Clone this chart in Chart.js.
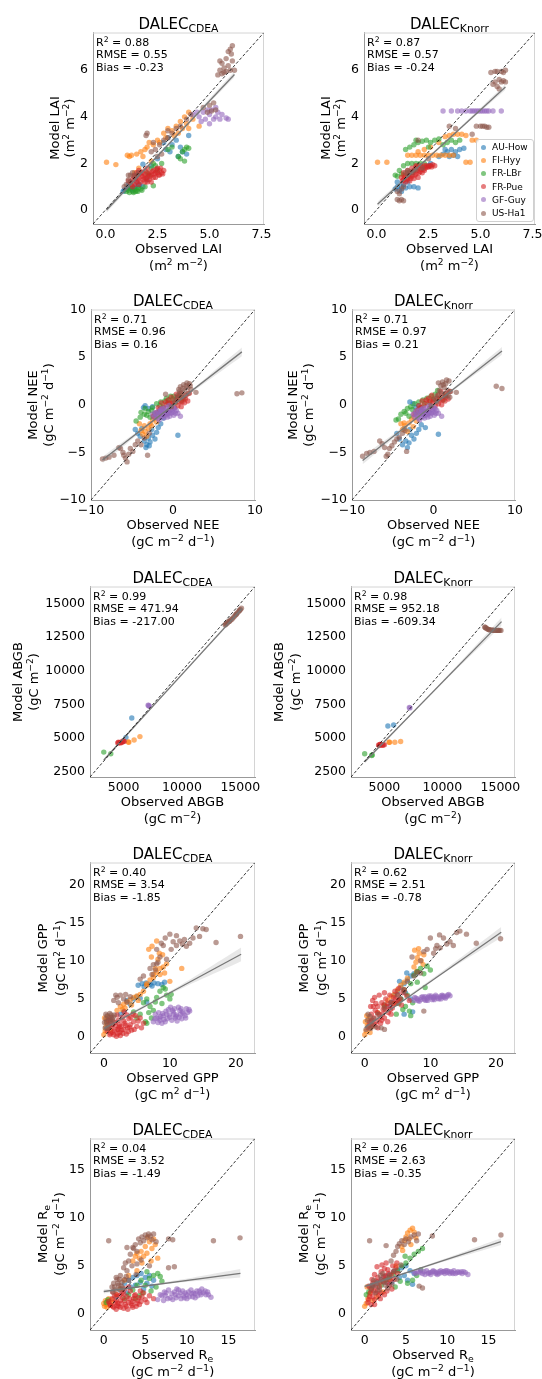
<!DOCTYPE html>
<html>
<head>
<meta charset="utf-8">
<script src="https://cdn.jsdelivr.net/npm/chart.js@4.4.0/dist/chart.umd.min.js"></script>
<style>
  body { margin: 0; background: #fff; }
  #fig { position: relative; width: 542px; height: 1379px; font-family: 'DejaVu Sans', sans-serif; color: #000; overflow: hidden; }
  #fig canvas { position: absolute; }
  .t { position: absolute; white-space: nowrap; }
  .t sup { font-size: 70%; vertical-align: 0; position: relative; top: -0.5em; line-height: 0; }
  .t sub { font-size: 72%; vertical-align: 0; position: relative; top: 0.28em; line-height: 0; }
  .legend { position: absolute; border: 1px solid #d0d0d0; border-radius: 3px; background: rgba(255,255,255,0.85); font-size: 9px; }
</style>
</head>
<body>
<div id="fig"></div>
<script>
const sites = ['AU-How', 'FI-Hyy', 'FR-LBr', 'FR-Pue', 'GF-Guy', 'US-Ha1'];
const siteColors = ['31,119,180', '255,127,14', '44,160,44', '214,39,40', '148,103,189', '140,86,75'];

// LAI
const laiLim = [-0.6, 7.62];
const laiTicksX = [0, 2.5, 5, 7.5];
const laiTicksY = [0, 2, 4, 6];

const laiCdea = [
  [1.2,0.95, 0.9,0.85, 1.0,0.9, 1.4,1.0, 1.6,1.05, 1.8,1.0, 1.3,0.85, 1.1,1.1, 1.5,1.2, 2.0,1.3, 1.8,1.97,
   2.8,2.9, 3.0,3.1, 3.2,2.8, 3.4,3.0, 3.6,2.7, 2.9,2.6, 3.7,2.5, 3.9,2.4, 3.5,2.3, 3.1,2.5, 4.0,3.2, 2.5,2.2, 2.2,1.9,
   0.85,0.8, 1.05,0.95, 1.25,0.9, 1.45,0.95, 1.65,1.1],
  [0.05,2.05, 0.5,1.95, 1.05,2.35, 1.15,2.3, 1.25,2.35, 1.5,2.4, 1.7,2.5, 1.9,2.6, 2.1,2.9, 2.0,2.7, 1.8,2.3, 2.3,2.8,
   2.5,3.0, 2.6,2.9, 2.8,3.3, 3.0,3.5, 3.2,3.4, 3.4,3.6, 3.6,3.8, 3.8,4.0, 4.0,4.2, 3.3,3.2, 3.5,3.3, 3.7,3.5, 2.9,3.1,
   3.9,3.7, 4.2,3.9, 4.5,3.6, 4.0,3.5, 1.6,1.8, 2.2,2.1, 1.4,1.6],
  [1.1,0.85, 1.3,0.8, 1.5,0.85, 1.7,0.9, 1.2,0.95, 1.9,1.0, 1.4,0.9, 1.6,0.95, 1.0,0.8, 2.0,1.6, 2.2,1.8, 2.4,1.9,
   2.5,1.7, 2.3,2.0, 2.7,2.0, 2.1,1.5, 2.3,1.04, 3.5,2.3, 3.7,2.5, 3.8,2.6, 3.9,2.7, 4.0,2.65, 3.6,2.2, 3.8,2.1, 3.0,2.6, 3.2,2.7,
   1.15,0.75, 1.35,0.75, 1.55,0.8, 1.75,0.85, 1.45,0.8],
  [1.3,1.3, 1.4,1.5, 1.5,1.2, 1.6,1.4, 1.7,1.6, 1.8,1.3, 1.9,1.5, 2.0,1.4, 2.1,1.6, 2.2,1.5, 2.3,1.7, 2.4,1.4, 2.5,1.6,
   2.6,1.7, 2.7,1.6, 1.5,1.6, 1.7,1.2, 1.9,1.7, 2.1,1.3, 2.3,1.4, 2.5,1.8, 1.4,1.1, 1.6,1.1, 2.0,1.8, 2.2,1.2, 2.8,1.7,
   1.2,1.2, 1.8,1.6, 2.4,1.6, 2.0,1.2, 1.3,1.0, 1.6,1.7, 1.1,1.25, 2.6,1.5, 1.35,1.45, 1.55,1.3, 1.75,1.45, 1.95,1.35,
   2.15,1.45, 2.35,1.55, 2.55,1.5, 2.45,1.75, 2.05,1.55, 1.85,1.4, 1.65,1.55, 1.45,1.35, 2.25,1.65, 2.65,1.8, 1.25,1.1,
   1.9,1.2, 2.75,1.55],
  [4.5,4.0, 4.7,4.2, 4.8,3.9, 5.0,4.1, 5.1,4.3, 5.2,3.9, 5.3,4.0, 5.4,4.2, 5.5,3.9, 4.9,4.3, 5.6,4.1, 5.8,3.95,
   4.4,4.2, 4.6,3.8, 5.0,3.7, 5.3,4.4, 4.2,4.1, 5.9,3.9],
  [5.5,6.0, 5.6,6.3, 5.7,6.1, 5.8,6.5, 5.9,6.2, 6.0,6.9, 6.05,6.7, 5.9,6.8, 6.1,7.05, 6.0,6.0, 5.7,5.9, 5.8,5.95,
   6.1,6.4, 5.4,5.8, 5.6,5.85, 6.2,6.0, 5.5,6.4, 5.0,4.5, 5.2,4.6, 5.3,4.3, 4.9,4.2, 4.7,4.4, 5.1,4.25, 3.9,3.9,
   4.1,4.1, 3.6,3.6, 3.4,3.5, 3.0,3.4, 2.8,3.0, 2.6,2.8, 2.4,2.6, 2.2,2.5, 2.0,3.3, 1.95,3.2, 2.3,2.9, 3.2,3.3, 2.7,2.4,
   2.5,2.3, 3.0,3.1, 1.1,1.3, 1.2,1.5, 1.3,1.6, 1.4,1.4, 1.2,1.2, 1.5,1.5, 1.0,1.1, 0.9,1.0, 1.6,1.6, 1.1,1.5]
];
const laiCdeaFit = [0.05, 0.0, 6.2, 5.82];
const laiCdeaBand = [[0.05, -0.12, 0.12], [3.1, 2.86, 2.96], [6.2, 5.7, 5.95]];
const laiCdeaStats = ['0.88', '0.55', '-0.23'];

const laiKnorr = [
  [0.9,0.9, 1.0,1.0, 1.1,0.85, 1.2,1.0, 1.3,1.1, 1.4,0.95, 1.0,1.2, 1.5,1.2, 1.2,0.8, 1.6,1.0, 1.8,1.0, 2.0,0.95,
   3.0,2.3, 3.2,2.4, 3.4,2.5, 3.6,2.6, 3.8,2.5, 4.0,2.6, 3.5,2.3, 3.7,2.35, 3.9,2.3, 3.3,2.6, 4.2,2.65, 2.5,1.9, 2.6,2.0],
  [0.05,2.05, 0.5,2.05, 1.5,2.35, 1.7,2.35, 1.9,2.35, 2.1,2.35, 2.3,2.35, 2.5,2.35, 2.7,2.35, 2.9,2.35, 3.1,2.35,
   3.3,2.35, 3.5,2.35, 3.7,2.35, 4.5,2.05, 4.3,2.05, 3.5,3.2, 3.7,3.25, 3.9,3.25, 4.1,3.25, 4.3,3.2, 3.3,3.15, 3.0,2.9,
   2.6,2.7, 2.3,2.6, 2.0,2.5, 1.5,1.6, 1.3,1.5, 4.6,3.0, 4.8,3.0],
  [0.9,1.5, 1.0,1.45, 1.1,1.7, 1.2,1.55, 1.3,1.9, 1.5,2.0, 1.7,2.0, 1.9,2.0, 2.1,2.0, 2.3,2.0, 1.4,2.6, 1.6,2.7,
   1.8,2.8, 2.0,2.9, 2.2,2.95, 2.4,3.0, 2.6,2.9, 2.8,3.0, 3.0,3.05, 3.2,2.8, 3.4,2.9, 3.6,3.0, 3.8,2.9, 4.0,3.0, 2.5,2.7, 1.9,3.0],
  [1.3,1.3, 1.4,1.5, 1.5,1.35, 1.6,1.6, 1.7,1.45, 1.8,1.7, 1.9,1.55, 2.0,1.8, 2.1,1.65, 2.2,1.85, 2.3,1.7, 2.4,1.9,
   2.5,1.85, 2.6,1.9, 1.5,1.7, 1.7,1.8, 1.9,1.9, 2.1,1.9, 1.4,1.2, 1.6,1.25, 1.8,1.35, 1.3,1.6, 2.0,1.4, 2.3,1.9,
   1.2,1.4, 2.7,1.95, 2.8,1.9, 1.6,1.45, 2.2,1.6, 1.35,1.4, 1.55,1.5, 1.75,1.6, 1.95,1.7, 2.15,1.75, 2.35,1.8,
   2.55,1.9, 1.45,1.3, 1.65,1.35, 1.85,1.5, 2.05,1.6, 2.25,1.75, 2.45,1.85, 1.25,1.25, 2.65,1.85, 1.9,1.85],
  [3.2,4.25, 3.6,4.25, 3.9,4.25, 4.1,4.25, 4.3,4.25, 4.5,4.25, 4.6,4.25, 4.7,4.25, 4.8,4.25, 4.9,4.25, 5.0,4.25,
   5.1,4.25, 5.2,4.25, 5.3,4.25, 5.4,4.25, 5.6,4.25, 6.0,4.25],
  [5.6,5.4, 5.7,5.5, 5.8,5.3, 5.9,5.6, 6.0,5.95, 6.1,5.9, 6.2,6.0, 6.0,5.5, 6.1,5.55, 5.5,5.9, 5.8,5.95, 5.9,5.2,
   6.2,5.5, 5.7,5.95, 5.0,3.6, 5.2,3.6, 5.3,3.55, 5.4,3.55, 5.1,3.6, 4.8,3.6, 3.5,3.6, 3.8,3.5, 4.6,3.25, 1.0,0.45,
   1.1,0.4, 1.2,0.45, 1.3,0.4, 1.1,0.7, 1.2,0.9, 1.3,1.0, 1.0,0.8, 1.4,1.6, 1.5,1.7, 1.6,1.65, 1.8,1.7, 1.7,1.6,
   1.9,1.75, 2.0,3.0, 2.5,2.2, 2.2,1.8, 1.5,1.5]
];
const laiKnorrFit = [0.05, 0.25, 6.2, 5.28];
const laiKnorrBand = [[0.05, 0.14, 0.36], [3.1, 2.72, 2.8], [6.2, 5.16, 5.4]];
const laiKnorrStats = ['0.87', '0.57', '-0.24'];

// NEE
const neeLim = [-10, 10];
const neeTicksX = [-10, 0, 10];
const neeTicksY = [-10, -5, 0, 5, 10];

const neeCdea = [
  [-4.3,-3.0, -4.0,-3.3, -3.5,-3.8, -3.2,-4.2, -3.0,-3.5, -2.8,-3.9, -2.5,-3.2, -2.2,-3.6, -2.0,-2.9, -1.8,-2.4,
   -3.8,-2.5, -2.6,-2.6, -1.5,-2.0, -3.3,-4.5, -2.9,-4.3, -4.6,-2.6, -3.6,-0.3, -3.4,-0.1, -3.0,-0.4, -2.5,-0.2,
   0.6,-3.2, -1.2,-1.4],
  [-3.7,-3.1, -3.4,-2.8, -3.2,-3.3, -3.0,-2.5, -2.8,-2.0, -2.5,-1.6, -2.2,-1.4, -2.0,-1.8, -3.5,-2.2, -1.8,-1.2,
   -2.6,-2.2, -3.9,-2.7, -4.1,-2.0, -2.3,-1.0, -1.6,-0.9],
  [-4.0,-1.3, -3.5,-1.0, -3.0,-0.7, -2.5,-0.3, -2.0,0.1, -1.5,0.3, -1.0,0.4, -0.5,0.5, 0.0,0.6, 0.5,0.8, 1.0,0.4,
   -1.8,-0.8, -1.2,-0.2, -0.8,0.7, 0.3,0.2, -2.8,-1.3, -4.5,-1.7, -3.9,-0.8, -0.3,0.9, 0.8,1.0, 1.3,0.6, -2.2,-1.0,
   -3.2,-1.1, -2.6,-0.6, -1.6,-0.1, -0.6,0.2, 0.1,0.9, -3.4,-0.4],
  [-2.0,-0.8, -1.6,-0.5, -1.2,-0.3, -0.8,0.0, -0.4,0.2, 0.0,0.3, 0.4,0.5, 0.8,0.3, 1.2,0.7, 1.6,1.0, -1.0,-0.9,
   -0.5,-0.6, 0.2,-0.3, 0.6,-0.1, 1.0,-0.2, 1.4,0.2, -1.4,0.2, -0.2,0.8, 2.0,1.2, -2.4,-1.2, 1.8,0.4, 0.4,1.1,
   -1.8,-0.3, -0.6,0.5, 0.6,0.8, 1.1,0.3, -0.1,0.1, 0.9,1.2, 1.5,0.6, -0.9,0.3],
  [-2.5,-1.0, -2.2,-0.8, -2.0,-1.2, -1.8,-0.7, -1.6,-1.0, -1.4,-1.3, -1.2,-0.8, -1.0,-1.1, -0.8,-0.6, -0.6,-0.9,
   -0.4,-1.2, -0.2,-0.5, 0.0,-0.8, 0.2,-0.4, -1.5,-0.5, -1.1,-1.4, -0.7,-1.3, -0.3,-0.2, 0.4,-0.6, -1.9,-1.4,
   -2.3,-1.3, -1.3,-0.4, -0.9,-0.3, 0.1,-1.1, 0.6,-0.9, 0.9,-1.2, -0.5,-0.1, -1.7,-1.6, -1.35,-0.95, -0.85,-0.95,
   -0.45,-0.85, -1.05,-0.7, -0.65,-0.75, -1.6,-0.8, -0.25,-0.9, -1.25,-1.15, -0.75,-1.05, 0.3,-0.9, -2.1,-0.95,
   -0.1,-0.6, -1.45,-0.65, 0.05,-0.3],
  [-8.6,-5.7, -8.2,-5.6, -7.8,-5.5, -7.2,-5.3, -6.6,-4.5, -6.4,-4.6, -6.1,-5.0, -6.0,-5.3, -5.8,-5.6, -5.6,-6.0,
   -5.4,-5.2, -5.2,-4.6, -4.9,-4.9, -4.6,-4.2, -4.3,-3.8, -3.9,-4.2, -3.1,-5.3, -3.5,-3.5, -2.9,-3.0, 7.8,1.15,
   8.4,1.25, 0.4,0.6, 0.6,1.0, 0.8,1.4, 1.0,1.2, 1.2,1.7, 1.4,1.5, 1.6,2.0, 1.8,1.8, 2.0,2.2, 1.1,0.8, 0.9,1.9,
   1.5,1.0, 1.3,2.1, 0.7,1.6, 2.2,1.6, 1.9,1.2, 2.8,1.3, 0.2,0.3, -0.2,-0.2, 1.7,2.3, 2.1,2.0, -0.9,1.1]
];
const neeCdeaFit = [-8.6, -5.8, 8.4, 5.55];
const neeCdeaBand = [[-8.6, -6.15, -5.45], [0, -0.2, 0.0], [8.4, 5.1, 6.0]];
const neeCdeaStats = ['0.71', '0.96', '0.16'];

const neeKnorr = [
  [-4.5,-3.0, -4.2,-3.6, -3.8,-4.2, -3.4,-3.8, -3.0,-4.0, -2.7,-3.2, -2.4,-3.6, -2.1,-3.0, -1.8,-2.6, -1.5,-2.1,
   -3.6,-2.5, -2.9,-2.6, -3.2,-4.5, -2.9,0.3, -2.5,0.1, -2.2,-0.3, -1.8,-0.1, 0.6,-3.1, -1.0,-2.4],
  [-3.8,-2.6, -3.5,-2.2, -3.2,-2.8, -3.0,-1.9, -2.7,-1.5, -2.4,-1.3, -2.1,-1.7, -1.8,-1.0, -3.6,-1.9, -2.5,-2.3,
   -4.0,-2.0, -1.6,-0.7, -2.2,-0.9],
  [-4.3,-1.5, -4.0,-1.0, -3.6,-0.7, -3.2,-0.4, -2.8,-0.2, -2.3,0.1, -1.8,0.3, -1.3,0.5, -0.8,0.7, -0.3,0.9, 0.2,1.1,
   0.7,0.7, 1.2,0.5, -2.0,-0.8, -1.5,-0.3, -0.5,0.3, -4.6,-1.6, -3.0,-1.2, 0.5,1.5, 1.5,1.0, -3.4,-0.9, -2.6,-0.5,
   -1.1,0.1, 0.0,0.6],
  [-2.0,-0.6, -1.6,-0.3, -1.2,-0.1, -0.8,0.2, -0.4,0.4, 0.0,0.5, 0.4,0.7, 0.8,0.5, 1.2,0.9, 1.6,1.2, -1.0,-0.7,
   -0.5,-0.4, 0.2,-0.1, 0.6,0.1, 1.0,0.0, 1.4,0.4, -1.4,0.4, -0.2,1.0, 2.0,1.4, -2.4,-1.0, 1.8,0.6, -1.8,-0.1,
   -0.6,0.7, 0.6,1.0, 1.1,0.5, -0.1,0.3, 0.9,1.4, 1.5,0.8, -0.9,0.5],
  [-2.5,-1.0, -2.2,-0.7, -2.0,-1.2, -1.8,-0.6, -1.6,-1.0, -1.4,-1.3, -1.2,-0.8, -1.0,-1.1, -0.8,-0.6, -0.6,-0.9,
   -0.4,-1.2, -0.2,-0.5, 0.0,-0.8, 0.2,-0.4, -1.5,-0.5, -1.1,-1.4, -0.7,-1.3, -0.3,-0.2, 0.4,-0.6, -1.9,-1.4,
   -2.3,-1.3, -1.3,-0.4, -0.9,-0.3, 0.1,-1.1, 0.6,-0.9, 1.0,-1.2, -0.5,-0.1, -1.7,-1.6, -1.35,-0.95, -0.85,-0.95,
   -0.45,-0.85, -1.05,-0.7, -0.65,-0.75, -1.6,-0.8, -0.25,-0.9, -1.25,-1.15, -0.75,-1.05, 0.3,-0.9, -2.1,-0.95,
   -0.1,-0.6, -1.45,-0.65, 0.05,-0.3],
  [-8.7,-5.4, -8.2,-5.1, -7.8,-5.0, -7.3,-4.9, -6.6,-3.8, -6.3,-4.1, -6.0,-4.5, -5.8,-5.4, -5.6,-5.2, -5.4,-4.6,
   -5.1,-4.3, -4.8,-3.9, -4.5,-3.6, -4.2,-3.4, -3.3,-4.9, -3.8,-3.0, -3.5,-2.7, 7.7,1.95, 8.4,1.7, 0.2,0.6, 0.5,1.0,
   0.7,1.5, 0.9,2.0, 1.1,2.4, 1.3,1.8, 1.5,2.2, 1.7,1.5, 1.9,2.5, 0.6,2.3, 1.0,1.2, 1.4,0.9, 1.8,1.0, 2.1,1.4,
   2.8,1.3, 0.4,0.3, 1.2,2.1, 1.6,2.6, -0.3,-0.1, 2.0,0.8]
];
const neeKnorrFit = [-8.7, -5.85, 8.4, 5.65];
const neeKnorrBand = [[-8.7, -6.25, -5.45], [0, -0.12, 0.08], [8.4, 5.25, 6.05]];
const neeKnorrStats = ['0.71', '0.97', '0.21'];

// ABGB
const abgbLim = [2120, 16260];
const abgbTicksX = [5000, 10000, 15000];
const abgbTicksY = [2500, 5000, 7500, 10000, 12500, 15000];

const abgbCdea = [
  [5700,6500, 5200,5050],
  [5400,4720, 5450,4700, 5900,4870, 6400,5120],
  [3300,3970, 3900,3850],
  [4500,4650, 4600,4660, 4700,4680, 4800,4700, 4900,4720, 5000,4750, 4550,4700, 4750,4650, 4950,4800, 5050,4780],
  [7150,7430, 7200,7380, 7100,7450],
  [13700,13400, 13800,13500, 13900,13550, 14000,13650, 14100,13700, 14200,13800, 14300,13850, 14400,13950,
   14500,14050, 14600,14150, 14700,14250, 14800,14350, 14900,14450, 15000,14550, 15100,14650, 13750,13450,
   14050,13680, 14650,14200, 14950,14500]
];
const abgbCdeaFit = [3300, 3380, 15150, 14620];
const abgbCdeaBand = [[3300, 3300, 3460], [9200, 8960, 9040], [15150, 14480, 14760]];
const abgbCdeaStats = ['0.99', '471.94', '-217.00'];

const abgbKnorr = [
  [5300,5900, 5800,5980],
  [5400,4700, 5450,4700, 5900,4700, 6400,4750],
  [3300,3850, 3950,3760, 3900,3720],
  [4500,4500, 4600,4520, 4700,4510, 4800,4500, 4900,4520, 5000,4510, 4650,4560, 4850,4480, 4550,4460],
  [7150,7280, 7200,7250],
  [13650,13250, 13750,13180, 13850,13120, 13950,13080, 14050,13050, 14150,13030, 14250,13020, 14350,13010,
   14450,13000, 14550,13000, 14650,13000, 14750,13000, 14850,13000, 14950,13000, 15050,13000, 13700,13220,
   14000,13060, 14400,13010, 14800,13000]
];
const abgbKnorrFit = [3300, 3250, 15100, 13650];
const abgbKnorrBand = [[3300, 3120, 3380], [9200, 8390, 8510], [15100, 13350, 13950]];
const abgbKnorrStats = ['0.98', '952.18', '-609.34'];

// GPP
const gppLim = [-2.1, 22.9];
const gppTicksX = [0, 10, 20];
const gppTicksY = [0, 5, 10, 15, 20];

const gppCdea = [
  [5.2,6.8, 5.8,7.0, 6.4,7.1, 7.0,6.9, 7.6,7.1, 8.2,7.0, 8.8,6.9, 9.2,7.2, 6.1,6.6, 7.3,6.7, 4.5,5.0, 5.0,5.3,
   3.5,4.8, 4.0,4.3, 5.5,5.1, 6.5,4.6, 3.0,3.4, 2.5,3.0],
  [0.0,0.3, 0.2,0.8, 0.3,1.3, 0.5,2.2, 0.1,2.5, 0.6,2.7, 0.4,1.8, 1.0,0.9, 0.8,1.5, 2.0,3.5, 2.5,4.0, 3.0,4.3,
   3.5,4.6, 4.0,4.9, 4.5,5.2, 5.0,5.4, 5.5,5.6, 3.2,3.8, 2.8,3.6, 4.2,4.2, 6.0,6.0, 5.2,4.8, 6.5,6.8, 7.0,7.5,
   7.5,8.2, 8.0,8.5, 8.5,9.0, 9.0,9.2, 9.5,9.6, 7.8,9.0, 8.2,10.2, 8.9,10.8, 7.2,10.5, 6.8,11.5, 8.4,11.0,
   9.2,8.4, 10.0,7.3, 11.8,9.0, 6.5,7.0, 7.5,7.8, 8.5,8.2, 7.3,11.9, 8.0,12.6],
  [6.0,4.5, 6.5,5.0, 7.0,4.0, 7.5,3.5, 8.0,5.2, 8.5,6.0, 9.0,6.5, 9.5,5.5, 10.0,5.0, 8.8,4.4, 7.2,2.5, 6.3,2.0,
   5.5,3.0, 6.8,3.2, 9.3,6.3, 7.8,4.6, 5.0,2.5, 4.5,3.3, 10.2,5.6, 6.5,1.8],
  [0.5,0.8, 0.8,1.5, 1.0,0.5, 1.2,1.2, 1.4,2.0, 1.6,0.8, 1.8,1.5, 2.0,1.0, 2.2,2.2, 2.4,0.6, 2.6,1.4, 2.8,2.6,
   3.0,1.0, 3.2,1.8, 3.4,0.4, 3.6,1.2, 3.8,2.4, 4.0,1.6, 4.2,0.9, 4.5,2.0, 4.8,2.8, 5.0,1.4, 1.5,0.3, 2.5,0.2,
   3.5,2.9, 1.1,2.6, 2.0,2.9, 0.7,2.2, 5.5,2.5, 6.0,1.8, 2.9,0.5, 1.9,0.1, 4.4,3.0, 3.1,3.3, 1.3,1.6, 2.3,1.3,
   0.6,1.1, 1.3,0.6, 1.7,1.9, 2.1,0.4, 2.7,0.9, 3.3,1.5, 3.9,1.3, 4.6,1.0, 5.2,2.1, 1.0,2.0, 2.4,1.6, 3.0,2.1,
   4.1,2.6, 0.9,0.3, 2.2,1.0, 3.7,0.7, 5.7,1.2],
  [7.5,2.0, 8.0,2.5, 8.5,2.2, 9.0,2.8, 9.5,3.0, 10.0,2.6, 10.5,3.3, 11.0,2.9, 11.5,3.5, 12.0,3.1, 12.5,3.7,
   13.0,3.4, 8.3,3.2, 8.8,1.8, 9.3,2.0, 9.8,3.6, 10.3,2.2, 10.8,2.5, 11.3,3.9, 11.8,2.4, 12.3,2.8, 7.8,3.0,
   9.6,2.4, 10.6,3.0, 11.6,3.0, 12.7,3.2, 8.6,2.7, 10.1,3.9, 11.1,2.1, 7.7,2.4, 8.2,1.9, 8.9,3.1, 9.1,2.3,
   9.9,2.9, 10.4,3.5, 10.9,2.7, 11.4,2.6, 11.9,3.3, 12.4,2.5, 12.9,3.6, 9.4,3.4, 10.7,3.7, 8.4,2.5, 11.7,3.7],
  [0.2,1.2, 0.4,2.0, 0.6,1.6, 0.8,2.5, 1.0,2.2, 1.2,1.8, 0.5,2.8, 0.3,3.0, 1.4,2.6, 0.7,1.3, 1.6,2.9, 0.9,3.1,
   1.5,4.8, 2.0,5.2, 2.5,5.5, 3.0,5.0, 3.5,4.6, 4.0,5.3, 2.2,4.5, 1.8,5.5, 3.3,5.6, 7.0,9.0, 7.5,9.5, 7.8,8.8,
   8.0,9.6, 8.5,10.5, 8.0,11.5, 8.7,12.3, 9.0,12.0, 9.3,13.0, 10.0,13.5, 10.5,12.5, 11.0,12.0, 11.5,12.6,
   11.9,12.2, 12.2,12.8, 12.5,11.9, 13.0,12.3, 13.5,13.0, 14.0,14.3, 14.5,13.2, 15.0,14.2, 15.5,14.1, 11.0,13.3,
   9.5,10.2, 8.2,9.8, 10.2,11.5, 17.0,12.4, 20.7,13.2, 7.3,8.2, 6.0,8.0, 5.5,7.6, 0.1,1.9, 0.5,1.1, 1.1,2.9,
   1.3,2.3, 0.3,2.4]
];
const gppCdeaFit = [0.0, 1.12, 20.8, 10.86];
const gppCdeaBand = [[0.0, 0.8, 1.45], [10.0, 5.6, 6.0], [20.8, 9.95, 11.75]];
const gppCdeaStats = ['0.40', '3.54', '-1.85'];

const gppKnorr = [
  [4.5,5.5, 5.0,6.0, 5.5,6.5, 6.0,7.0, 6.5,7.5, 7.0,8.0, 7.5,8.3, 8.0,8.5, 5.0,4.5, 5.5,5.0, 6.0,3.0, 7.3,3.3,
   7.0,5.0, 6.2,5.8, 5.3,7.3, 6.4,8.4, 4.2,4.6, 3.8,4.0],
  [0.0,0.3, 0.2,0.8, 0.4,1.5, 0.6,2.4, 0.3,2.8, 0.1,2.0, 0.8,0.6, 1.0,1.3, 2.0,3.2, 3.0,4.0, 3.5,4.8, 4.0,5.3,
   4.5,5.6, 5.0,6.2, 5.5,6.8, 6.0,7.2, 7.5,9.2, 7.8,9.8, 8.0,10.4, 8.3,11.0, 8.6,10.0, 8.9,9.5, 7.6,11.4,
   8.2,11.6, 9.0,10.8, 7.9,8.6, 6.5,7.7, 4.5,4.4],
  [5.5,5.0, 6.0,6.2, 6.5,5.5, 7.0,7.0, 7.5,8.1, 8.0,8.6, 8.5,9.0, 9.0,8.3, 9.5,9.3, 10.0,8.8, 6.2,4.0, 6.8,3.4,
   7.3,4.5, 5.8,3.6, 4.8,3.0, 9.2,6.5, 8.0,7.2, 5.2,4.4, 7.0,2.8, 3.0,4.2],
  [0.5,1.2, 0.8,2.0, 1.0,3.0, 1.2,1.5, 1.4,2.5, 1.6,3.5, 1.8,2.0, 2.0,4.0, 2.2,3.0, 2.4,1.8, 2.6,4.5, 2.8,3.6,
   3.0,2.5, 3.2,5.0, 3.4,4.0, 3.6,3.2, 3.8,5.5, 4.0,4.6, 4.2,3.8, 4.4,5.2, 4.6,6.0, 4.8,4.4, 5.0,5.6, 5.2,6.4,
   5.4,5.0, 5.6,4.2, 5.8,5.8, 6.0,6.2, 6.4,5.4, 1.5,5.2, 1.2,4.8, 2.2,5.5, 3.0,5.8, 2.0,1.2, 3.5,2.0, 2.6,2.2,
   4.0,3.0, 1.3,4.0, 0.9,4.0, 6.8,4.8, 0.7,1.6, 1.1,2.2, 1.5,1.6, 1.9,3.2, 2.3,2.5, 2.7,3.0, 3.1,3.6, 3.5,4.4,
   3.9,3.6, 4.3,4.4, 4.7,5.0, 5.1,4.8, 2.9,4.2, 1.7,4.4],
  [7.5,4.8, 8.0,5.0, 8.5,4.9, 9.0,5.1, 9.5,5.0, 10.0,5.2, 10.5,5.1, 11.0,5.3, 11.5,5.2, 12.0,5.4, 12.5,5.3,
   13.0,5.4, 7.8,5.1, 8.3,4.7, 8.8,5.3, 9.3,4.8, 9.8,5.4, 10.3,4.9, 10.8,5.5, 11.3,5.0, 11.8,5.5, 12.3,5.1,
   12.8,5.6, 9.6,5.2, 10.6,5.3, 11.6,5.4, 7.6,5.2, 8.1,4.8, 8.6,5.2, 9.1,4.9, 9.6,4.8, 10.1,5.4, 10.6,4.9,
   11.1,5.1, 11.6,5.0, 12.1,5.2, 12.6,5.5, 9.2,5.3, 10.4,5.2, 11.9,5.3],
  [0.2,1.0, 0.4,2.2, 0.6,1.4, 0.8,2.7, 1.0,2.0, 1.2,1.5, 0.5,3.0, 1.4,2.4, 0.9,1.1, 1.7,1.3, 2.5,1.2, 3.0,1.0,
   2.0,3.0, 3.0,3.8, 4.0,4.5, 5.0,5.5, 6.0,6.0, 6.5,7.3, 7.5,8.0, 8.0,8.5, 8.5,10.0, 9.0,11.2, 9.5,11.5,
   10.0,13.0, 10.5,11.0, 11.0,12.0, 11.5,11.7, 12.0,13.0, 12.5,12.2, 13.0,12.5, 13.5,12.0, 14.0,13.7, 14.5,13.9,
   15.5,13.5, 17.0,12.3, 20.7,12.9, 9.0,3.4, 7.2,10.5, 10.8,11.6, 8.5,8.4, 11.4,13.4]
];
const gppKnorrFit = [0.0, 1.25, 20.8, 13.75];
const gppKnorrBand = [[0.0, 0.95, 1.55], [10.0, 7.2, 7.5], [20.8, 13.05, 14.45]];
const gppKnorrStats = ['0.62', '2.51', '-0.78'];

// Re
const reLim = [-1.65, 18.2];
const reTicksX = [0, 5, 10, 15];
const reTicksY = [0, 5, 10, 15];

const reCdea = [
  [2.0,2.5, 2.5,3.2, 3.0,3.5, 3.5,3.8, 4.0,4.0, 4.5,4.2, 5.0,3.8, 5.5,4.0, 6.0,3.5, 3.2,2.8, 3.8,3.0, 4.4,3.3,
   5.2,3.2, 2.8,2.2, 1.5,1.8, 4.8,2.6, 5.8,2.9],
  [0.1,0.8, 0.3,1.0, 0.5,1.3, 0.8,0.9, 1.0,1.5, 0.2,1.4, 3.5,5.5, 3.8,6.0, 4.0,6.3, 4.3,5.8, 4.5,6.5, 4.8,6.0,
   5.0,7.0, 5.2,6.3, 5.5,7.5, 5.8,6.8, 6.0,7.8, 6.5,5.8, 5.7,5.5, 4.0,4.5, 3.0,4.0, 2.5,3.5, 6.2,7.2, 5.3,8.0,
   4.6,5.3, 1.5,2.0, 2.0,2.6, 0.0,1.1, 0.4,0.7, 0.6,1.6, 0.9,1.2],
  [3.0,2.0, 3.5,2.5, 4.0,3.0, 4.5,3.5, 5.0,3.0, 5.5,3.7, 6.0,4.0, 6.5,4.2, 7.0,3.4, 6.3,2.8, 5.7,2.4, 4.7,2.2,
   3.8,1.6, 5.2,4.4, 6.8,3.9, 4.3,1.9, 0.3,1.2, 0.5,1.5, 2.5,1.6],
  [0.8,0.9, 1.0,1.6, 1.2,0.7, 1.4,1.2, 1.6,2.0, 1.8,0.8, 2.0,1.4, 2.2,2.2, 2.4,0.6, 2.6,1.0, 2.8,1.8, 3.0,1.2,
   3.2,2.4, 3.4,0.9, 3.6,1.6, 3.8,2.0, 4.0,1.1, 4.2,1.7, 4.5,1.3, 4.8,2.2, 5.0,1.5, 1.1,2.3, 1.5,0.5, 2.0,0.7,
   2.9,0.5, 3.5,1.3, 4.4,2.4, 5.5,1.9, 6.0,1.6, 1.3,1.9, 2.5,2.6, 3.0,2.8, 0.6,1.3, 1.7,1.1, 2.3,1.7, 3.9,0.8,
   0.7,1.1, 1.1,0.8, 1.5,1.4, 1.9,1.9, 2.1,1.1, 2.5,1.4, 2.7,0.8, 3.1,1.6, 3.3,1.1, 3.7,1.9, 4.1,1.4, 4.6,1.8,
   5.2,1.2, 1.6,0.9, 2.4,2.1, 3.5,0.7, 4.3,1.0],
  [6.5,1.5, 7.0,1.9, 7.5,2.2, 8.0,1.7, 8.5,2.3, 9.0,1.9, 9.5,2.4, 10.0,2.0, 10.5,2.5, 11.0,2.1, 11.5,2.4,
   12.0,2.2, 12.5,2.3, 12.9,1.75, 7.2,1.4, 7.8,2.5, 8.3,1.5, 8.8,2.6, 9.3,1.6, 9.8,2.2, 10.3,1.8, 10.8,2.2,
   11.3,1.9, 11.8,2.6, 12.3,2.0, 9.6,1.9, 8.6,2.0, 10.6,2.1, 7.4,1.9, 11.6,2.2, 6.8,2.0, 7.3,2.3, 7.7,1.6,
   8.2,2.1, 8.7,1.7, 9.2,2.2, 9.7,1.7, 10.2,2.3, 10.7,1.8, 11.2,2.4, 11.7,2.0, 12.2,2.4, 12.6,2.0, 9.0,2.5,
   10.0,1.6, 11.0,1.7],
  [0.6,7.6, 1.0,2.8, 1.2,3.2, 1.4,2.5, 1.6,3.6, 1.8,3.0, 2.0,4.0, 2.2,3.3, 2.4,4.8, 2.6,5.3, 2.8,4.5, 3.0,5.5,
   3.2,6.2, 3.4,5.0, 3.6,6.8, 3.8,7.2, 4.0,6.5, 4.2,7.8, 4.4,7.4, 4.6,8.0, 4.8,7.6, 5.0,8.2, 5.2,7.9, 5.4,8.3,
   5.6,8.1, 5.8,7.7, 6.0,8.3, 6.3,7.5, 4.5,5.6, 3.9,4.1, 3.0,3.5, 2.3,2.7, 1.5,3.8, 3.5,6.9, 2.8,6.9, 4.0,5.2,
   5.5,5.0, 7.8,7.8, 8.3,7.7, 7.8,4.8, 8.5,4.9, 13.2,7.6, 16.4,7.9, 1.1,2.3, 1.9,2.6, 1.3,2.8, 1.7,3.2, 2.1,2.9,
   2.5,3.6, 2.7,3.9, 1.9,3.6]
];
const reCdeaFit = [0.0, 2.34, 16.45, 4.23];
const reCdeaBand = [[0.0, 2.14, 2.54], [7.0, 3.07, 3.27], [16.45, 3.78, 4.68]];
const reCdeaStats = ['0.04', '3.52', '-1.49'];

const reKnorr = [
  [0.6,2.8, 1.0,3.0, 1.5,3.3, 2.0,3.6, 2.5,3.9, 3.0,4.1, 3.5,4.4, 4.0,4.6, 4.5,4.8, 5.0,5.0, 5.5,4.5, 6.0,4.2,
   3.3,3.3, 4.2,3.8, 5.2,3.5, 5.8,3.1, 2.8,3.2, 4.8,4.0],
  [0.0,0.8, 0.2,1.1, 0.4,1.6, 0.6,2.1, 0.8,2.5, 1.0,1.4, 0.3,2.8, 4.5,7.0, 4.8,7.6, 5.0,8.0, 5.2,8.4, 5.5,8.7,
   5.8,8.9, 6.0,8.5, 5.4,7.8, 4.6,6.6, 6.2,7.9, 5.6,7.2, 3.8,5.0, 3.0,3.6, 2.2,2.3, 1.5,1.8],
  [2.0,3.0, 2.5,3.5, 3.0,3.8, 3.5,4.2, 4.0,4.5, 4.5,5.0, 5.0,5.3, 5.5,5.8, 6.0,6.2, 6.5,6.5, 7.0,6.8, 5.2,3.2,
   5.8,3.5, 6.3,4.0, 4.3,3.4, 3.7,2.8, 6.8,4.6, 4.9,6.0, 0.2,2.0, 0.5,2.3],
  [0.4,1.2, 0.6,1.8, 0.8,2.6, 1.0,3.2, 1.2,1.5, 1.4,2.2, 1.6,3.8, 1.8,2.8, 2.0,4.4, 2.2,3.4, 2.4,2.0, 2.6,5.3,
   2.8,4.6, 3.0,3.0, 3.2,4.0, 3.4,5.0, 3.6,3.6, 3.8,4.8, 4.0,4.2, 1.5,4.9, 2.1,5.1, 1.2,4.1, 0.9,3.6, 2.7,2.4,
   1.7,1.9, 3.3,2.6, 0.5,2.9, 1.9,1.6, 2.5,4.0, 3.9,5.3, 1.1,2.4, 0.5,1.5, 0.7,2.2, 1.0,1.8, 1.3,2.8, 1.6,2.4,
   1.9,3.3, 2.3,3.9, 2.6,3.3, 2.9,4.2, 3.1,3.5, 3.5,4.4, 0.8,1.0, 1.4,3.4, 2.0,2.2, 2.4,4.7, 1.2,1.0],
  [6.0,4.3, 6.5,4.4, 7.0,4.2, 7.5,4.5, 8.0,4.3, 8.5,4.4, 9.0,4.2, 9.5,4.4, 10.0,4.3, 10.5,4.4, 11.0,4.2,
   11.5,4.3, 12.0,4.4, 12.5,4.1, 6.8,4.5, 7.3,4.1, 7.8,4.3, 8.3,4.5, 8.8,4.1, 9.3,4.3, 9.8,4.5, 10.3,4.2,
   10.8,4.5, 11.3,4.4, 11.8,4.2, 9.6,4.4, 10.6,4.3, 8.6,4.2, 6.2,4.2, 6.7,4.3, 7.2,4.4, 7.7,4.2, 8.2,4.4, 8.7,4.3,
   9.2,4.5, 9.7,4.2, 10.2,4.4, 10.7,4.2, 11.2,4.3, 11.7,4.4, 12.2,4.3, 8.0,4.1, 9.0,4.4, 10.0,4.5],
  [0.6,7.6, 1.0,2.9, 1.5,3.2, 2.0,3.5, 2.5,3.0, 3.0,4.0, 3.2,5.5, 3.5,6.1, 3.8,6.5, 4.0,7.0, 4.2,7.3, 4.5,7.6,
   4.8,7.2, 5.0,7.8, 5.3,7.5, 5.6,8.0, 6.0,8.2, 6.3,7.6, 6.5,8.3, 8.2,8.1, 13.3,7.7, 16.5,8.2, 6.6,2.9, 7.0,2.7,
   2.6,7.1, 1.8,2.5, 2.2,4.2, 3.6,4.5, 4.4,5.1, 0.8,2.6, 1.3,2.2, 2.8,2.7, 3.9,3.6, 1.1,3.5, 1.6,2.8, 2.3,3.3,
   2.7,3.6, 3.3,3.1, 1.9,4.0, 0.9,3.0]
];
const reKnorrFit = [0.0, 2.86, 16.5, 7.5];
const reKnorrBand = [[0.0, 2.66, 3.06], [7.0, 4.73, 4.93], [16.5, 7.15, 7.85]];
const reKnorrStats = ['0.26', '2.63', '-0.35'];

// axis label lines
const laiXLabel = ['Observed LAI', '(m<sup>2</sup> m<sup>\u22122</sup>)'];
const laiYLabel = ['Model LAI', '(m<sup>2</sup> m<sup>\u22122</sup>)'];
const neeXLabel = ['Observed NEE', '(gC m<sup>\u22122</sup> d<sup>\u22121</sup>)'];
const neeYLabel = ['Model NEE', '(gC m<sup>\u22122</sup> d<sup>\u22121</sup>)'];
const abgbXLabel = ['Observed ABGB', '(gC m<sup>\u22122</sup>)'];
const abgbYLabel = ['Model ABGB', '(gC m<sup>\u22122</sup>)'];
const gppXLabel = ['Observed GPP', '(gC m<sup>2</sup> d<sup>\u22121</sup>)'];
const gppYLabel = ['Model GPP', '(gC m<sup>2</sup> d<sup>\u22121</sup>)'];
const reXLabel = ['Observed R<sub>e</sub>', '(gC m<sup>\u22122</sup> d<sup>\u22121</sup>)'];
const reYLabel = ['Model R<sub>e</sub>', '(gC m<sup>\u22122</sup> d<sup>\u22121</sup>)'];

const fmtInt = v => String(v).replace('-', '\u2212');
const fmtOne = v => v.toFixed(1);

const panels = [
  { area: [93, 32, 264, 224], model: 'CDEA', lim: laiLim, tx: laiTicksX, ty: laiTicksY, fx: fmtOne, fy: fmtInt,
    pts: laiCdea, fit: laiCdeaFit, band: laiCdeaBand, stats: laiCdeaStats, xl: laiXLabel, yl: laiYLabel, ylx: [55, 70] },
  { area: [364, 32, 535, 224], model: 'Knorr', lim: laiLim, tx: laiTicksX, ty: laiTicksY, fx: fmtOne, fy: fmtInt,
    pts: laiKnorr, fit: laiKnorrFit, band: laiKnorrBand, stats: laiKnorrStats, xl: laiXLabel, yl: laiYLabel, ylx: [326, 341], legend: true },
  { area: [91, 309, 255, 500], model: 'CDEA', lim: neeLim, tx: neeTicksX, ty: neeTicksY, fx: fmtInt, fy: fmtInt,
    pts: neeCdea, fit: neeCdeaFit, band: neeCdeaBand, stats: neeCdeaStats, xl: neeXLabel, yl: neeYLabel, ylx: [33, 49] },
  { area: [352, 309, 515, 500], model: 'Knorr', lim: neeLim, tx: neeTicksX, ty: neeTicksY, fx: fmtInt, fy: fmtInt,
    pts: neeKnorr, fit: neeKnorrFit, band: neeKnorrBand, stats: neeKnorrStats, xl: neeXLabel, yl: neeYLabel, ylx: [293, 309] },
  { area: [90, 586, 255, 777], model: 'CDEA', lim: abgbLim, tx: abgbTicksX, ty: abgbTicksY, fx: fmtInt, fy: fmtInt,
    pts: abgbCdea, fit: abgbCdeaFit, band: abgbCdeaBand, stats: abgbCdeaStats, xl: abgbXLabel, yl: abgbYLabel, ylx: [18, 34] },
  { area: [351, 586, 515, 777], model: 'Knorr', lim: abgbLim, tx: abgbTicksX, ty: abgbTicksY, fx: fmtInt, fy: fmtInt,
    pts: abgbKnorr, fit: abgbKnorrFit, band: abgbKnorrBand, stats: abgbKnorrStats, xl: abgbXLabel, yl: abgbYLabel, ylx: [279, 296] },
  { area: [90, 862, 255, 1053], model: 'CDEA', lim: gppLim, tx: gppTicksX, ty: gppTicksY, fx: fmtInt, fy: fmtInt,
    pts: gppCdea, fit: gppCdeaFit, band: gppCdeaBand, stats: gppCdeaStats, xl: gppXLabel, yl: gppYLabel, ylx: [43, 61] },
  { area: [351, 862, 515, 1053], model: 'Knorr', lim: gppLim, tx: gppTicksX, ty: gppTicksY, fx: fmtInt, fy: fmtInt,
    pts: gppKnorr, fit: gppKnorrFit, band: gppKnorrBand, stats: gppKnorrStats, xl: gppXLabel, yl: gppYLabel, ylx: [304, 322] },
  { area: [90, 1138, 255, 1330], model: 'CDEA', lim: reLim, tx: reTicksX, ty: reTicksY, fx: fmtInt, fy: fmtInt,
    pts: reCdea, fit: reCdeaFit, band: reCdeaBand, stats: reCdeaStats, xl: reXLabel, yl: reYLabel, ylx: [43, 60] },
  { area: [351, 1138, 515, 1330], model: 'Knorr', lim: reLim, tx: reTicksX, ty: reTicksY, fx: fmtInt, fy: fmtInt,
    pts: reKnorr, fit: reKnorrFit, band: reKnorrBand, stats: reKnorrStats, xl: reXLabel, yl: reYLabel, ylx: [304, 321] }
];

const fig = document.getElementById('fig');
Chart.defaults.font.family = "'DejaVu Sans', sans-serif";
Chart.defaults.color = '#000';

const toXY = flat => {
  const out = [];
  for (let i = 0; i < flat.length; i += 2) out.push({ x: flat[i], y: flat[i + 1] });
  return out;
};

function addText(html, cx, cy, size, rotate) {
  const d = document.createElement('div');
  d.className = 't';
  d.innerHTML = html;
  d.style.cssText = `left:${cx - 150}px;top:${cy - 9}px;width:300px;height:18px;line-height:18px;text-align:center;font-size:${size}px;` +
    (rotate ? 'transform:rotate(-90deg);' : '');
  fig.appendChild(d);
}

// light top/right spines
const frame = {
  id: 'frame',
  beforeDatasetsDraw(chart) {
    const { ctx, chartArea: a } = chart;
    ctx.save();
    ctx.strokeStyle = '#d4d4d4';
    ctx.lineWidth = 1;
    ctx.beginPath();
    ctx.moveTo(a.left, a.top + 0.5);
    ctx.lineTo(a.right - 0.5, a.top + 0.5);
    ctx.lineTo(a.right - 0.5, a.bottom);
    ctx.stroke();
    ctx.restore();
  }
};

function makePanel(p) {
  const [L, T, R, B] = p.area;
  const padL = 80, padT = 12, padR = 26, axH = 20;
  const w = R - L + padL + padR, h = B - T + padT + axH;
  const cv = document.createElement('canvas');
  cv.width = w; cv.height = h;
  cv.style.left = (L - padL) + 'px';
  cv.style.top = (T - padT) + 'px';
  cv.style.width = w + 'px';
  cv.style.height = h + 'px';
  fig.appendChild(cv);

  const datasets = p.pts.map((flat, i) => ({
    label: sites[i],
    data: toXY(flat),
    backgroundColor: `rgba(${siteColors[i]},0.6)`,
    borderWidth: 0,
    pointRadius: 2.7,
    pointHoverRadius: 2.7,
    order: 10 - i
  }));
  datasets.push({
    type: 'line', label: 'ci-hi',
    data: p.band.map(r => ({ x: r[0], y: r[2] })),
    borderColor: 'transparent', borderWidth: 0, pointRadius: 0, tension: 0.4, fill: false, order: 3
  });
  datasets.push({
    type: 'line', label: 'ci-lo',
    data: p.band.map(r => ({ x: r[0], y: r[1] })),
    borderColor: 'transparent', borderWidth: 0, pointRadius: 0, tension: 0.4,
    fill: '-1', backgroundColor: 'rgba(140,140,140,0.2)', order: 3
  });
  datasets.push({
    type: 'line', label: 'fit',
    data: toXY(p.fit),
    borderColor: '#777', borderWidth: 1.3, pointRadius: 0, fill: false, order: 2
  });
  datasets.push({
    type: 'line', label: '1:1',
    data: [{ x: p.lim[0], y: p.lim[0] }, { x: p.lim[1], y: p.lim[1] }],
    borderColor: '#000', borderWidth: 0.8, borderDash: [3, 2], pointRadius: 0, fill: false, order: 1
  });

  const axis = (ticks, fmt, isY) => ({
    type: 'linear',
    min: p.lim[0],
    max: p.lim[1],
    afterBuildTicks: s => { s.ticks = ticks.map(v => ({ value: v })); },
    afterFit: s => { if (isY) s.width = padL; else s.height = axH; },
    grid: { drawOnChartArea: false, drawTicks: false },
    border: { display: true, color: '#999', width: 1 },
    ticks: { callback: v => fmt(v), font: { size: 12.5 }, color: '#000', padding: isY ? 5 : 3,
             autoSkip: false, maxRotation: 0, minRotation: 0 }
  });

  new Chart(cv, {
    type: 'scatter',
    data: { datasets },
    options: {
      responsive: false,
      animation: false,
      events: [],
      layout: { padding: { left: 0, top: padT, right: padR, bottom: 0 } },
      scales: { x: axis(p.tx, p.fx, false), y: axis(p.ty, p.fy, true) },
      plugins: { legend: { display: false }, tooltip: { enabled: false } }
    },
    plugins: [frame]
  });

  const cx = (L + R) / 2, cy = (T + B) / 2;
  // title
  const t = document.createElement('div');
  t.className = 't';
  t.style.cssText = `left:${cx - 150}px;top:${T - 18.5}px;width:300px;height:20px;line-height:20px;text-align:center;font-size:15px;`;
  t.innerHTML = `DALEC<sub>${p.model}</sub>`;
  fig.appendChild(t);
  // stats
  const s = document.createElement('div');
  s.className = 't';
  s.style.cssText = `left:${L + 3}px;top:${T + 4.5}px;font-size:11px;line-height:12.5px;`;
  s.innerHTML = `R<sup>2</sup> = ${p.stats[0]}<br>RMSE = ${p.stats[1]}<br>Bias = ${p.stats[2]}`;
  fig.appendChild(s);
  // axis labels
  addText(p.xl[0], cx, B + 25, 13, false);
  addText(p.xl[1], cx, B + 42, 13, false);
  addText(p.yl[0], p.ylx[0], cy, 13, true);
  addText(p.yl[1], p.ylx[1], cy, 13, true);

  if (p.legend) {
    const lg = document.createElement('div');
    lg.className = 'legend';
    lg.style.cssText = 'left:476px;top:139px;width:56px;height:81px;';
    sites.forEach((name, i) => {
      const row = document.createElement('div');
      row.className = 't';
      row.style.cssText = `left:0;top:${1 + i * 13.2}px;height:13px;line-height:13px;font-size:9px;`;
      row.innerHTML = `<span style="display:inline-block;width:5px;height:5px;border-radius:50%;background:rgba(${siteColors[i]},0.6);margin:0 6px 1px 4px;vertical-align:middle"></span>${name}`;
      lg.appendChild(row);
    });
    fig.appendChild(lg);
  }
}

panels.forEach(makePanel);
</script>
</body>
</html>
